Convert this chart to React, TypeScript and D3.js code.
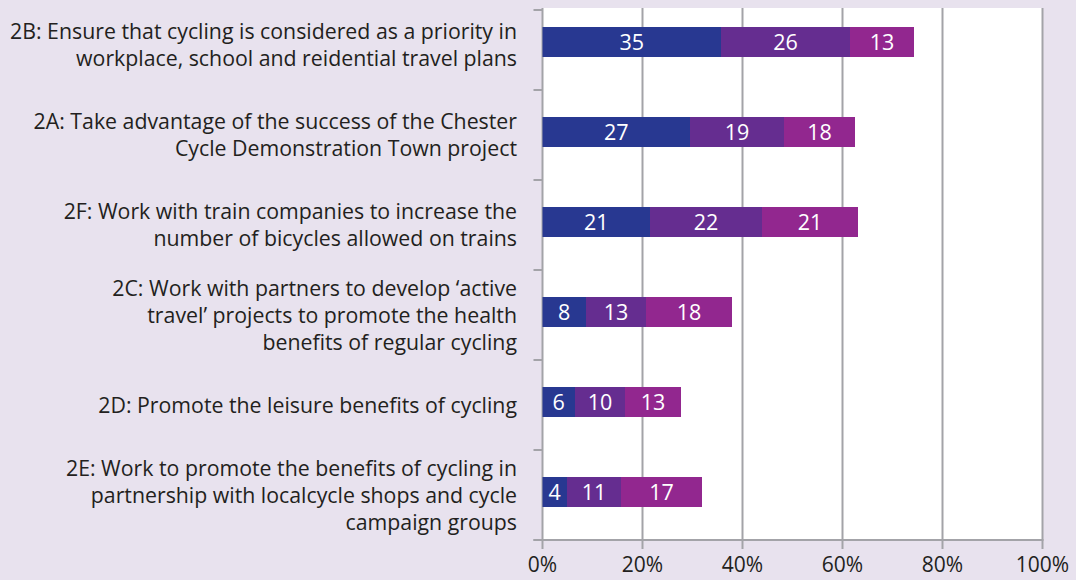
import { useEffect, useRef } from 'react';
import * as d3 from 'd3';

const categories = ['2B', '2A', '2F', '2C', '2D', '2E'];

const categoryLabels = [
  ['2B: Ensure that cycling is considered as a priority in', 'workplace, school and reidential travel plans'],
  ['2A: Take advantage of the success of the Chester', 'Cycle Demonstration Town project'],
  ['2F: Work with train companies to increase the', 'number of bicycles allowed on trains'],
  ["2C: Work with partners to develop \u2018active", 'travel\u2019 projects to promote the health', 'benefits of regular cycling'],
  ['2D: Promote the leisure benefits of cycling'],
  ['2E: Work to promote the benefits of cycling in', 'partnership with localcycle shops and cycle', 'campaign groups'],
];

// bar widths (% of respondents)
const firstPct = [35.7, 29.5, 21.5, 8.7, 6.5, 4.9];
const secondPct = [25.8, 18.8, 22.4, 12.0, 10.0, 10.8];
const thirdPct = [12.8, 14.2, 19.2, 17.2, 11.2, 16.2];

// numbers printed inside the bars
const firstCount = [35, 27, 21, 8, 6, 4];
const secondCount = [26, 19, 22, 13, 10, 11];
const thirdCount = [13, 18, 21, 18, 13, 17];

const xTicks = [0, 20, 40, 60, 80, 100];

const seriesColors = ['#283891', '#652d90', '#92278f'];

export default function App() {
  const svgRef = useRef<SVGSVGElement>(null);

  useEffect(() => {
    if (!svgRef.current) return;
    const root = d3.select(svgRef.current);
    root.selectAll('*').remove();

    const W = 1076;
    const H = 580;
    const plotLeft = 542.5;
    const plotRight = 1042.5;
    const plotTop = 8;
    const plotBottom = 540;
    const font = '"Open Sans", Lato, sans-serif';

    root.append('rect').attr('width', W).attr('height', H).attr('fill', '#e8e2ee');
    root
      .append('rect')
      .attr('x', plotLeft)
      .attr('y', plotTop)
      .attr('width', plotRight - plotLeft)
      .attr('height', plotBottom - plotTop)
      .attr('fill', '#ffffff');

    const x = d3.scaleLinear().domain([0, 100]).range([plotLeft, plotRight]);
    const y = d3.scaleBand().domain(categories).range([0, plotBottom]);
    const barH = 30;
    const gridColor = '#a3a3a8';

    // gridlines + ticks below axis
    root
      .selectAll('.grid')
      .data(xTicks)
      .enter()
      .append('line')
      .attr('x1', d => x(d))
      .attr('x2', d => x(d))
      .attr('y1', plotTop)
      .attr('y2', plotBottom + 9)
      .attr('stroke', gridColor)
      .attr('stroke-width', 2);

    // x axis line
    root
      .append('line')
      .attr('x1', plotLeft - 9)
      .attr('x2', plotRight + 1)
      .attr('y1', plotBottom)
      .attr('y2', plotBottom)
      .attr('stroke', gridColor)
      .attr('stroke-width', 2);

    // category ticks on y axis
    const bounds = categories.map(c => y(c) as number).concat([plotBottom]);
    root
      .selectAll('.ytick')
      .data(bounds)
      .enter()
      .append('line')
      .attr('x1', plotLeft - 9)
      .attr('x2', plotLeft)
      .attr('y1', d => Math.max(d, plotTop + 2))
      .attr('y2', d => Math.max(d, plotTop + 2))
      .attr('stroke', gridColor)
      .attr('stroke-width', 2);

    // x tick labels
    root
      .selectAll('.xlabel')
      .data(xTicks)
      .enter()
      .append('text')
      .attr('x', d => x(d))
      .attr('y', 572)
      .attr('text-anchor', 'middle')
      .attr('font-family', font)
      .attr('font-size', 21)
      .attr('fill', '#231f20')
      .text(d => `${d}%`);

    // stacked bars
    const pcts = [firstPct, secondPct, thirdPct];
    const counts = [firstCount, secondCount, thirdCount];
    const g = root.append('g');
    categories.forEach((c, i) => {
      let start = 0;
      const cy = (y(c) as number) + y.bandwidth() / 2 - 3;
      pcts.forEach((series, s) => {
        const v = series[i];
        g.append('rect')
          .attr('x', x(start))
          .attr('y', cy - barH / 2)
          .attr('width', x(start + v) - x(start))
          .attr('height', barH)
          .attr('fill', seriesColors[s]);
        g.append('text')
          .attr('x', (x(start) + x(start + v)) / 2)
          .attr('y', cy + 8)
          .attr('text-anchor', 'middle')
          .attr('font-family', font)
          .attr('font-size', 21.5)
          .attr('fill', '#ffffff')
          .text(counts[s][i]);
        start += v;
      });
    });

    // category labels
    const lineH = 27;
    categories.forEach((c, i) => {
      const lines = categoryLabels[i];
      const cy = (y(c) as number) + y.bandwidth() / 2;
      const t = root
        .append('text')
        .attr('text-anchor', 'end')
        .attr('font-family', font)
        .attr('font-size', 21.3)
        .attr('fill', '#231f20');
      lines.forEach((ln, k) => {
        t.append('tspan')
          .attr('x', 517)
          .attr('y', cy + (k - (lines.length - 1) / 2) * lineH + 7.5)
          .text(ln);
      });
    });
  }, []);

  return (
    <svg
      ref={svgRef}
      width={1076}
      height={580}
      style={{ position: 'absolute', left: 0, top: 0, display: 'block' }}
    ></svg>
  );
}
